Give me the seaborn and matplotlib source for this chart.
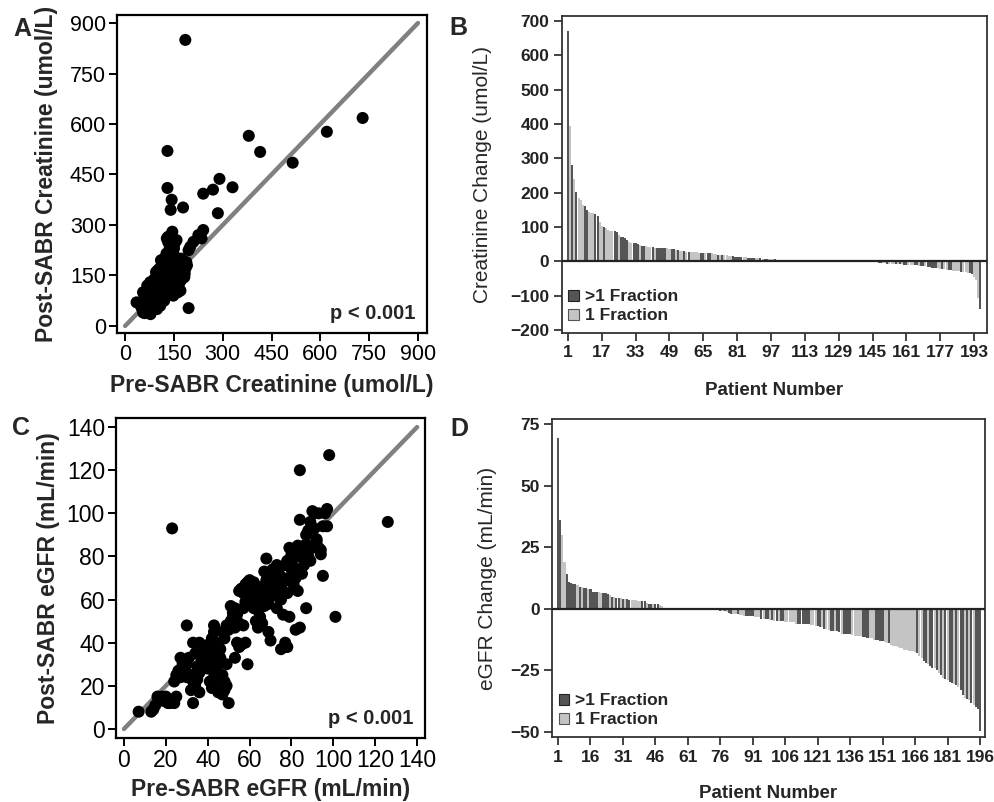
import numpy as np
import pandas as pd
import matplotlib
matplotlib.use("Agg")
import matplotlib.pyplot as plt
from matplotlib.patches import Patch
import seaborn as sns

# ---------- data ----------

# Panel A: creatinine before / after SABR (umol/L)
pre_creat = [35, 50, 55, 58, 60, 62, 65, 68, 70, 72, 75, 75, 78, 80, 80, 82, 85, 85, 88, 90,
             90, 92, 95, 95, 98, 100, 100, 102, 105, 105, 107, 108, 110, 110, 112, 113, 115, 115, 117, 118,
             120, 120, 122, 122, 125, 125, 127, 128, 130, 130, 130, 132, 132, 133, 135, 135, 137, 138, 138, 140,
             140, 142, 142, 145, 145, 145, 147, 148, 150, 150, 152, 153, 155, 155, 158, 160, 160, 162, 163, 165,
             167, 170, 172, 175, 175, 178, 180, 182, 185, 188, 190, 60, 65, 70, 75, 80, 85, 90, 95, 100,
             105, 110, 115, 120, 125, 130, 135, 140, 145, 150, 155, 160, 165, 170, 100, 110, 120, 128, 135, 140,
             150, 118, 97, 87, 92, 77, 68, 55, 63, 115, 125, 133, 143, 153, 168, 178, 183, 195, 200, 210,
             225, 235, 240, 185, 730, 620, 515, 415, 380, 130, 130, 143, 140, 178, 240, 270, 290, 330, 285, 195,
             170, 160, 148, 138, 120, 108, 98, 102]
post_creat = [70, 55, 40, 95, 38, 100, 80, 60, 90, 45, 110, 75, 35, 55, 100, 130, 85, 65, 120, 95,
              140, 70, 160, 110, 130, 80, 150, 100, 120, 170, 90, 140, 110, 195, 160, 130, 120, 180, 100, 145,
              200, 160, 130, 110, 175, 150, 215, 140, 185, 160, 120, 250, 265, 200, 170, 145, 230, 190, 130, 155,
              120, 210, 175, 280, 260, 165, 140, 200, 180, 150, 245, 125, 190, 160, 255, 175, 140, 100, 200, 150,
              185, 170, 200, 160, 140, 185, 175, 145, 170, 190, 180, 90, 100, 70, 95, 120, 105, 115, 90, 125,
              145, 135, 150, 140, 130, 140, 155, 185, 195, 210, 170, 190, 170, 150, 165, 170, 185, 260, 245, 240,
              230, 190, 75, 50, 55, 130, 120, 100, 65, 90, 100, 105, 135, 145, 130, 165, 155, 225, 235, 250,
              270, 260, 285, 850, 618, 577, 485, 517, 565, 520, 410, 375, 345, 352, 393, 405, 437, 412, 335, 53,
              105, 110, 90, 95, 75, 60, 50, 70]
identity_a = [0, 900]

# Panel C: eGFR before / after SABR (mL/min)
pre_egfr = [7, 13, 14, 15, 16, 17, 18, 19, 20, 21, 22, 24, 25, 24, 25, 26, 27, 27, 28, 29,
            30, 31, 32, 33, 32, 33, 34, 35, 33, 34, 35, 36, 37, 38, 39, 40, 40, 41, 42, 42,
            43, 43, 44, 44, 45, 45, 46, 46, 47, 47, 48, 48, 49, 49, 50, 47, 48, 46, 49, 50,
            51, 51, 52, 53, 53, 54, 55, 56, 57, 58, 59, 55, 56, 57, 58, 59, 60, 60, 61, 61,
            62, 62, 63, 63, 64, 64, 65, 65, 66, 66, 67, 67, 68, 68, 68, 69, 69, 70, 70, 71,
            71, 72, 72, 73, 73, 74, 74, 75, 75, 75, 76, 76, 77, 77, 77, 78, 78, 78, 79, 79,
            79, 80, 80, 81, 81, 82, 82, 83, 83, 83, 84, 85, 85, 86, 86, 87, 88, 88, 89, 89,
            90, 90, 91, 91, 92, 92, 93, 93, 94, 94, 95, 96, 97, 97, 98, 84, 84, 23, 126, 101,
            95, 87, 30, 28, 29, 31, 30, 36, 38, 39, 41, 43, 44, 42, 45, 46, 36, 34, 52, 53,
            54, 55, 57, 58, 60, 62, 64, 66, 68, 70, 72, 74, 76, 80, 82, 86, 88]
post_egfr = [8, 8, 9, 11, 15, 14, 15, 13, 15, 12, 12, 12, 15, 22, 25, 27, 24, 33, 30, 31,
             30, 24, 25, 12, 18, 22, 20, 23, 40, 35, 29, 40, 32, 30, 33, 39, 28, 30, 42, 35,
             45, 48, 40, 27, 30, 38, 20, 33, 25, 16, 22, 18, 20, 30, 12, 45, 42, 37, 48, 46,
             50, 57, 54, 47, 33, 40, 38, 39, 48, 40, 30, 64, 65, 63, 67, 68, 69, 58, 60, 64,
             56, 68, 65, 50, 55, 47, 60, 52, 62, 49, 57, 73, 66, 69, 79, 58, 45, 64, 41, 74,
             70, 67, 62, 76, 56, 72, 61, 65, 60, 37, 68, 53, 76, 69, 40, 63, 78, 38, 52, 70,
             84, 81, 74, 67, 75, 70, 46, 85, 80, 64, 47, 83, 72, 79, 76, 90, 85, 80, 96, 78,
             101, 84, 93, 100, 87, 88, 100, 84, 83, 81, 94, 100, 94, 102, 127, 120, 97, 93, 96, 52,
             71, 56, 48, 26, 28, 33, 24, 26, 36, 38, 22, 24, 31, 19, 17, 18, 17, 25, 52, 56,
             53, 49, 56, 59, 62, 60, 63, 66, 61, 68, 71, 69, 70, 77, 83, 85, 92]
identity_c = [0, 140]

# Panel B: creatinine change per patient, sorted
creat_change = [670, 393, 280, 240, 203, 185, 178, 165, 160, 150,
                143, 142, 140, 138, 133, 115, 103, 99, 96, 90,
                89, 88, 88, 85, 78, 72, 70, 67, 63, 57,
                54, 53, 52, 50, 47, 45, 45, 44, 43, 42,
                41, 40, 40, 40, 39, 39, 39, 38, 37, 36,
                35, 34, 33, 31, 30, 29, 28, 28, 27, 26,
                26, 26, 25, 25, 25, 25, 25, 25, 24, 22,
                20, 18, 18, 17, 17, 17, 16, 15, 15, 14,
                14, 14, 13, 12, 12, 11, 11, 11, 10, 10,
                9, 9, 8, 8, 7, 7, 6, 6, 6, 5,
                5, 5, 5, 4, 4, 4, 4, 4, 3, 3,
                3, 3, 3, 2, 2, 2, 1, 1, 1,
                0, 0, 0, 0, 0, 0, 0, 0, 0, 0, 0, 0, 0, 0, 0, 0, 0, 0, 0, 0, 0, 0, 0, 0, 0,
                -2, -3, -3, -4, -5, -5, -6, -7, -7, -7,
                -8, -8, -8, -9, -9, -10, -10, -10, -11, -11,
                -12, -12, -13, -13, -14, -15, -16, -17, -18, -19,
                -20, -20, -21, -22, -23, -24, -25, -26, -27, -28,
                -28, -29, -30, -30, -32, -34, -35, -37, -45, -55,
                -108, -138]
creat_frac = ("DLDLDLLLDD LLLDDLLDLL LLDDLDDDDL LDDDLDDLLL DLDDDDDLLD DLDLLDLDLL "
              "LLLDDLDDLL LDLDLLLLDD DDDLLDDDDL LDLDDLLLDL DLDLDDLDLD DLDLLLLLL "
              "LLLLLLLLLLLLLLLLLLLLLLLLL "
              "DLLDDLLDLL LDLDLDDLLL DDLDDLDDDD DLLDLLDDLL LLDLLLDDLL LD")

# Panel D: eGFR change per patient, sorted
egfr_change = [69.5, 36, 30, 19, 14, 11, 10.5, 10, 10, 9.5,
               9, 9, 8.5, 8.5, 8, 8, 7, 7, 7, 7,
               6.5, 6.5, 6.5, 6, 5.5, 5, 5, 4.5, 4.5, 4.5,
               4, 4, 4, 3.5, 3.5, 3.5, 3.5, 3, 3, 3,
               3, 2.5, 2, 2, 2, 2, 2, 1.5, 1, 0.5,
               0.3,
               0, 0, 0, 0, 0, 0, 0, 0, 0, 0, 0, 0, 0, 0, 0, 0, 0, 0, 0, 0, 0,
               -0.3, -0.5, -0.5, -0.7, -1, -1, -1.2, -1.5, -2, -2,
               -2, -2, -2.5, -2.5, -3, -3, -3, -3, -3, -3.5,
               -3.5, -3.5, -4, -4, -4, -4, -4.5, -4.5, -5, -5,
               -5, -5, -5, -5.5, -5.5, -5.5, -5.5, -5.5, -6, -6,
               -6, -6, -6, -6, -6, -6.5, -6.5, -7, -7, -7.5,
               -7.5, -8, -8, -8.5, -9, -9, -9, -9, -9.5, -10,
               -10, -10, -10, -10, -10.5, -11, -11, -11, -11, -11.5,
               -11.5, -12, -12, -12, -12.5, -12.5, -12.5, -13, -13, -13.5,
               -14, -14, -14.5, -15, -15, -15.5, -16, -16, -16.5, -16.5,
               -17, -17, -17, -17.5, -18, -19, -20, -21, -22, -22.5,
               -23, -24, -24, -25, -26, -27, -28, -28.5, -29, -29.5,
               -30, -30.5, -31, -31.5, -33, -35, -36, -36.5, -37, -38,
               -39, -40, -40.5, -49.5]
egfr_frac = ("DDLLDDDDDL DLDDLDDDDL LDDDLDLDDL DLDDLLLLLD DLDDLDDLLL L "
             "LLLLLLLLLLLLLLLLLLLLL "
             "DDLDLDLDDL LDLLLDDDDL LLDLDDLDLD LDDLLLLLLD DDDDDLLLDD LDLLDDLDDL "
             "DDDDLLLLLD DDLLLDDDDL LDLLLLLLLL LLLLDLLDDL DDLDLDLDLD DLDLDDLDLD LDDD")

frac_names = {"D": ">1 Fraction", "L": "1 Fraction"}
frac_colors = {">1 Fraction": "#555555", "1 Fraction": "#c4c4c4"}
frac_edges = {">1 Fraction": "#222222", "1 Fraction": "#555555"}


def change_frame(values, codes):
    codes = codes.replace(" ", "")
    return pd.DataFrame({
        "patient": np.arange(1, len(values) + 1),
        "change": values,
        "fraction": [frac_names[c] for c in codes],
    })


df_b = change_frame(creat_change, creat_frac)
df_d = change_frame(egfr_change, egfr_frac)

# ---------- style ----------
sns.set_style("ticks")
plt.rcParams["font.family"] = ["Liberation Sans", "DejaVu Sans"]

fig = plt.figure(figsize=(9.95, 8.02), dpi=100)
axA = fig.add_axes([0.1176, 0.5848, 0.3116, 0.3965])
axB = fig.add_axes([0.5648, 0.5848, 0.4271, 0.3953])
axC = fig.add_axes([0.1166, 0.0798, 0.3106, 0.3990])
axD = fig.add_axes([0.5548, 0.0810, 0.4352, 0.3965])


def scatter_panel(ax, x, y, ident, lims, ticks, xlabel, ylabel, tick_size, lab_pos):
    sns.lineplot(x=ident, y=ident, color="#808080", linewidth=3.2, ax=ax, zorder=1)
    sns.scatterplot(x=x, y=y, color="black", s=75, edgecolor="none", linewidth=0, ax=ax, zorder=3)
    ax.set_xlim(lims[0])
    ax.set_ylim(lims[1])
    ax.set_xticks(ticks)
    ax.set_yticks(ticks)
    ax.tick_params(labelsize=tick_size, length=6, width=1.4, colors="black", pad=2)
    for s in ax.spines.values():
        s.set_linewidth(1.6)
        s.set_color("black")
    ax.set_xlabel(xlabel, fontsize=16.5, fontweight="bold")
    ax.set_ylabel(ylabel, fontsize=16.5, fontweight="bold")
    ax.xaxis.set_label_coords(0.5, lab_pos[0])
    ax.yaxis.set_label_coords(lab_pos[1], 0.5)
    ax.xaxis.label.set_va("top")
    ax.text(0.962, 0.03, "p < 0.001", transform=ax.transAxes, ha="right", va="bottom",
            fontsize=14.5, fontweight="bold")


def bar_panel(ax, df, lims, xticks, yticks, ylabel, lab_pos, leg_anchor):
    sns.barplot(data=df, x="patient", y="change", hue="fraction",
                hue_order=[">1 Fraction", "1 Fraction"], palette=frac_colors,
                native_scale=True, dodge=False, width=0.95, errorbar=None,
                linewidth=0, legend=False, ax=ax)
    ax.axhline(0, color="#222222", linewidth=1.6, zorder=4)
    ax.set_xlim(lims[0])
    ax.set_ylim(lims[1])
    ax.set_xticks(xticks)
    ax.set_yticks(yticks)
    ax.tick_params(labelsize=12.5, length=6, width=1.2, colors="#222222", pad=3)
    for lab in ax.get_xticklabels() + ax.get_yticklabels():
        lab.set_fontweight("bold")
    for s in ax.spines.values():
        s.set_linewidth(1.3)
        s.set_color("#333333")
    ax.set_xlabel("Patient Number", fontsize=13.5, fontweight="bold")
    ax.set_ylabel(ylabel, fontsize=15)
    ax.xaxis.set_label_coords(0.5, lab_pos[0])
    ax.yaxis.set_label_coords(lab_pos[1], 0.5)
    ax.xaxis.label.set_va("top")
    handles = [Patch(facecolor=frac_colors[k], edgecolor=frac_edges[k], linewidth=0.8, label=k)
               for k in [">1 Fraction", "1 Fraction"]]
    ax.legend(handles=handles, loc="lower left", bbox_to_anchor=leg_anchor,
              frameon=False, handlelength=0.6, handleheight=0.6, handletextpad=0.35,
              labelspacing=0.25, borderpad=0, borderaxespad=0,
              prop={"size": 12.5, "weight": "bold"})


scatter_panel(axA, pre_creat, post_creat, identity_a, ((-25, 928), (-21, 924)),
              [0, 150, 300, 450, 600, 750, 900],
              "Pre-SABR Creatinine (umol/L)", "Post-SABR Creatinine (umol/L)", 15.5, (-0.13, -0.19))
scatter_panel(axC, pre_egfr, post_egfr, identity_c, ((-3.8, 143.8), (-4.2, 144.2)),
              [0, 20, 40, 60, 80, 100, 120, 140],
              "Pre-SABR eGFR (mL/min)", "Post-SABR eGFR (mL/min)", 16.5, (-0.125, -0.18))

bar_panel(axB, df_b, ((-1.84, 199.1), (-208.7, 714.6)), list(range(1, 197, 16)),
          list(range(-200, 701, 100)), "Creatinine Change (umol/L)", (-0.155, -0.165), (0.015, 0.03))
bar_panel(axD, df_d, ((-1.77, 198.3), (-52, 77)), list(range(1, 197, 15)),
          [-50, -25, 0, 25, 50, 75], "eGFR Change (mL/min)", (-0.15, -0.127), (0.015, 0.03))

for letter, px, py in [("A", 22, 29), ("B", 458, 28), ("C", 21, 428), ("D", 459, 429)]:
    fig.text(px / 995, 1 - py / 802, letter, ha="center", va="center",
             fontsize=18, fontweight="bold")

fig.savefig("out.png", dpi=100)
